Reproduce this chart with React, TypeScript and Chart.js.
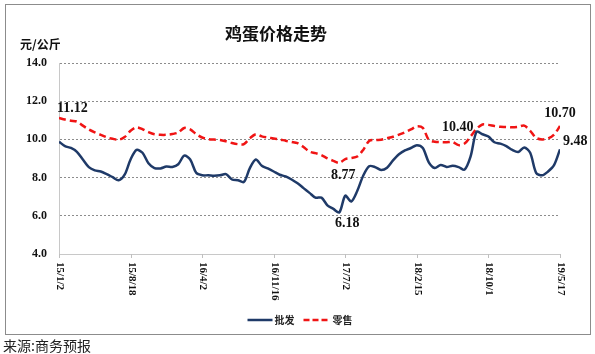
import React, { useEffect, useRef } from 'react';
import { Chart, registerables } from 'chart.js';

Chart.register(...registerables);

// ---- data ----
const tickLabels = ['15/1/2', '15/8/18', '16/4/2', '16/11/16', '17/7/2', '18/2/15', '18/10/1', '19/5/17'];
const pointsPerTick = 12;

const wholesale = [
  9.88, 9.65, 9.55, 9.35, 8.95, 8.55, 8.38, 8.32, 8.18, 8.02,
  7.86, 8.15, 8.95, 9.45, 9.30, 8.75, 8.50, 8.48, 8.58, 8.56,
  8.70, 9.15, 8.95, 8.25, 8.12, 8.12, 8.10, 8.12, 8.18, 7.90,
  7.86, 7.77, 8.50, 8.95, 8.62, 8.48, 8.32, 8.15, 8.06, 7.90,
  7.70, 7.45, 7.20, 6.95, 6.95, 6.55, 6.36, 6.18, 7.05, 6.75,
  7.30, 8.10, 8.60, 8.55, 8.40, 8.52, 8.90, 9.22, 9.42, 9.55,
  9.70, 9.55, 8.80, 8.50, 8.66, 8.56, 8.62, 8.55, 8.42, 9.10,
  10.40, 10.27, 10.15, 9.85, 9.78, 9.65, 9.45, 9.34, 9.58, 9.30,
  8.25, 8.12, 8.32, 8.65, 9.48,
];

const retail = [
  11.12, 11.04, 10.98, 10.93, 10.72, 10.52, 10.37, 10.24, 10.11, 10.03,
  9.98, 10.12, 10.45, 10.63, 10.53, 10.38, 10.27, 10.24, 10.24, 10.28,
  10.36, 10.60, 10.52, 10.28, 10.10, 10.02, 9.99, 9.97, 9.90, 9.81,
  9.75, 9.75, 10.06, 10.27, 10.16, 10.10, 10.05, 10.00, 9.93, 9.87,
  9.80, 9.60, 9.36, 9.28, 9.18, 9.01, 8.88, 8.77, 8.97, 9.02,
  9.10, 9.45, 9.92, 9.97, 9.98, 10.06, 10.14, 10.25, 10.37, 10.52,
  10.68, 10.60, 9.98, 9.88, 9.86, 9.85, 9.86, 9.70, 9.78, 10.15,
  10.55, 10.78, 10.76, 10.70, 10.66, 10.65, 10.63, 10.66, 10.72, 10.45,
  10.08, 10.00, 10.05, 10.25, 10.70,
];

const seriesNames = ['批发', '零售'];
const yMin = 4;
const yMax = 14;
const yStep = 2;

// labels attached to data points: series 0 = wholesale, 1 = retail
const pointLabels = [
  { series: 1, index: 0, text: '11.12', align: 'left', dx: -2, dy: -10 },
  { series: 1, index: 47, text: '8.77', align: 'center', dx: 4, dy: 12 },
  { series: 0, index: 47, text: '6.18', align: 'center', dx: 8, dy: 11 },
  { series: 0, index: 70, text: '10.40', align: 'right', dx: -3, dy: -4 },
  { series: 1, index: 84, text: '10.70', align: 'center', dx: 0, dy: -13 },
  { series: 0, index: 84, text: '9.48', align: 'left', dx: 3, dy: -8 },
];

const BLUE = '#1f3a68';
const RED = '#f01414';
const NUM_FONT = '"Liberation Serif", "Times New Roman", serif';
const CJK_FONT = '"Noto Sans CJK SC", "Noto Sans", sans-serif';

const overlayPlugin = {
  id: 'overlay',
  afterDraw(chart: any) {
    const { ctx, chartArea, scales } = chart;
    const xs = scales.x;
    const ys = scales.y;
    ctx.save();

    // x tick marks and clockwise-rotated labels
    ctx.strokeStyle = '#bfbfbf';
    ctx.lineWidth = 1;
    tickLabels.forEach((lab, k) => {
      const x = Math.round(xs.getPixelForValue(k * pointsPerTick)) + 0.5;
      ctx.beginPath();
      ctx.moveTo(x, chartArea.bottom);
      ctx.lineTo(x, chartArea.bottom + 4);
      ctx.stroke();
      ctx.save();
      ctx.translate(x, chartArea.bottom + 8);
      ctx.rotate(Math.PI / 2);
      ctx.font = 'bold 11px ' + NUM_FONT;
      ctx.fillStyle = '#111';
      ctx.textAlign = 'left';
      ctx.textBaseline = 'middle';
      ctx.fillText(lab, 0, 0);
      ctx.restore();
    });

    // point labels
    ctx.font = 'bold 14px ' + NUM_FONT;
    ctx.fillStyle = '#111';
    ctx.textBaseline = 'middle';
    const series = [wholesale, retail];
    pointLabels.forEach((p) => {
      const x = xs.getPixelForValue(p.index);
      const y = ys.getPixelForValue(series[p.series][p.index]);
      ctx.textAlign = p.align;
      ctx.fillText(p.text, x + p.dx, y + p.dy);
    });

    // legend
    const ly = chart.height - 34;
    let lx = chart.width / 2 - 50;
    ctx.lineWidth = 2.5;
    ctx.strokeStyle = BLUE;
    ctx.setLineDash([]);
    ctx.beginPath();
    ctx.moveTo(lx, ly);
    ctx.lineTo(lx + 25, ly);
    ctx.stroke();
    ctx.font = 'bold 10px ' + CJK_FONT;
    ctx.fillStyle = '#222';
    ctx.textAlign = 'left';
    ctx.fillText(seriesNames[0], lx + 27, ly);
    lx += 56;
    ctx.strokeStyle = RED;
    ctx.setLineDash([6, 3]);
    ctx.beginPath();
    ctx.moveTo(lx, ly);
    ctx.lineTo(lx + 27, ly);
    ctx.stroke();
    ctx.setLineDash([]);
    ctx.fillText(seriesNames[1], lx + 29, ly);

    ctx.restore();
  },
};

export default function App() {
  const ref = useRef<HTMLCanvasElement | null>(null);

  useEffect(() => {
    document.body.style.margin = '0';
    const canvas = ref.current;
    if (!canvas) return;
    const chart = new Chart(canvas, {
      type: 'line',
      data: {
        datasets: [
          {
            label: seriesNames[0],
            data: wholesale.map((v, i) => ({ x: i, y: v })),
            borderColor: BLUE,
            borderWidth: 2.5,
            pointRadius: 0,
            tension: 0.3,
            fill: false,
          },
          {
            label: seriesNames[1],
            data: retail.map((v, i) => ({ x: i, y: v })),
            borderColor: RED,
            borderWidth: 2.5,
            borderDash: [7, 4],
            pointRadius: 0,
            tension: 0.3,
            fill: false,
          },
        ],
      },
      options: {
        animation: false,
        responsive: false,
        maintainAspectRatio: false,
        devicePixelRatio: 1,
        layout: { padding: { left: 0, top: 63, right: 35, bottom: 100 } },
        plugins: {
          legend: { display: false },
          title: { display: false },
          tooltip: { enabled: false },
        },
        scales: {
          x: {
            type: 'linear',
            min: 0,
            max: wholesale.length - 1,
            ticks: { display: false },
            grid: { display: false },
            border: { display: true, color: '#c8c8c8', width: 1 },
            afterFit(scale: any) {
              scale.height = 0;
            },
          },
          y: {
            min: yMin,
            max: yMax,
            ticks: {
              stepSize: yStep,
              padding: 12,
              color: '#111',
              font: { family: NUM_FONT, size: 12, weight: 'bold' },
              callback: (v: any) => Number(v).toFixed(1),
            },
            grid: {
              drawTicks: false,
              color: (c: any) => (c.tick && c.tick.value === yMin ? 'rgba(0,0,0,0)' : '#8c8c8c'),
              lineWidth: 1,
            },
            border: { display: true, color: '#c8c8c8', width: 1, dash: [2, 2] },
            afterFit(scale: any) {
              scale.width = 59;
            },
          },
        },
      },
      plugins: [overlayPlugin],
    });
    return () => chart.destroy();
  }, []);

  return (
    <div style={{ position: 'relative', width: 595, height: 354, background: '#fff', overflow: 'hidden' }}>
      <canvas ref={ref} width={595} height={354} style={{ position: 'absolute', left: 0, top: 0, width: 595, height: 354 }} />
      <div
        style={{
          position: 'absolute',
          left: 5,
          top: 4,
          width: 584,
          height: 329,
          border: '1px solid #8c8c8c',
          pointerEvents: 'none',
        }}
      />
      <div
        style={{
          position: 'absolute',
          left: 0,
          width: 552,
          top: 21,
          textAlign: 'center',
          font: 'bold 17px ' + CJK_FONT,
          color: '#111',
          lineHeight: '24px',
        }}
      >
        鸡蛋价格走势
      </div>
      <div
        style={{
          position: 'absolute',
          left: 20,
          top: 36,
          font: 'bold 12px ' + CJK_FONT,
          color: '#111',
          lineHeight: '16px',
        }}
      >
        元/公斤
      </div>
      <div
        style={{
          position: 'absolute',
          left: 3,
          top: 336,
          font: '14px ' + CJK_FONT,
          color: '#222',
          lineHeight: '18px',
        }}
      >
        来源:商务预报
      </div>
    </div>
  );
}
